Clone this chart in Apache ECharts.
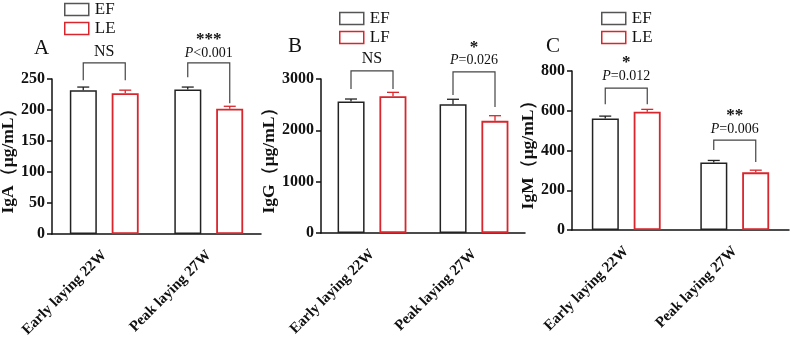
<!DOCTYPE html>
<html>
<head>
<meta charset="utf-8">
<script src="https://cdn.jsdelivr.net/npm/echarts@6/dist/echarts.min.js"></script>
<style>
  html, body { margin: 0; padding: 0; background: #fff; }
  #chart { width: 791px; height: 337px; }
</style>
</head>
<body>
<div id="chart"></div>
<script>
// categories and values
const categories = ['Early laying 22W', 'Peak laying 27W']

const igaEF = [232, 233]
const igaEFErr = [5, 4]
const igaLE = [227, 202]
const igaLEErr = [5, 4]

const iggEF = [2560, 2510]
const iggEFErr = [50, 95]
const iggLF = [2665, 2185]
const iggLFErr = [75, 100]

const igmEF = [561, 340]
const igmEFErr = [12, 10]
const igmLE = [595, 290]
const igmLEErr = [12, 11]

const yMax = [250, 3000, 800]
const yStep = [50, 1000, 200]

// significance brackets: [category, bracket level, left leg end, right leg end]
const bracketA = [[0, 276, 248, 248], [1, 276, 253, 211]]
const bracketB = [[0, 3158, 2807, 2807], [1, 3138, 2690, 2456]]
const bracketC = [[0, 714, 633, 633], [1, 452, 402, 342]]
// annotation anchors [category, level] and their texts
const annoA = [[0, 294], [1, 314], [1, 292]]
const annoTextA = ['NS', '***', '{i|P}<0.001']
const annoB = [[0, 3392], [1, 3610], [1, 3372]]
const annoTextB = ['NS', '*', '{i|P}=0.026']
const annoC = [[0, 842], [1, 575], [0, 774], [1, 508]]
const annoTextC = ['*', '**', '{i|P}=0.012', '{i|P}=0.006']

const SERIF = "'Times New Roman', 'Liberation Serif', serif"
const BLACK = '#222'
const RED = '#d8262c'
const OFF = 21

const chart = echarts.init(document.getElementById('chart'))

function errRender(offset, color) {
  return function(params, api) {
    const c = api.coord([api.value(0), api.value(1)])
    const t = api.coord([api.value(0), api.value(1) + api.value(2)])
    const x = c[0] + offset
    return {
      type: 'group',
      children: [
        { type: 'line', shape: { x1: x, y1: c[1], x2: x, y2: t[1] }, style: { stroke: color, lineWidth: 1.3 } },
        { type: 'line', shape: { x1: x - 6, y1: t[1], x2: x + 6, y2: t[1] }, style: { stroke: color, lineWidth: 1.3 } }
      ]
    }
  }
}

function bracketRender(params, api) {
  const top = api.coord([api.value(0), api.value(1)])
  const l = api.coord([api.value(0), api.value(2)])
  const r = api.coord([api.value(0), api.value(3)])
  return {
    type: 'polyline',
    shape: { points: [[top[0] - OFF, l[1]], [top[0] - OFF, top[1]], [top[0] + OFF, top[1]], [top[0] + OFF, r[1]]] },
    style: { stroke: '#444', lineWidth: 1.2, fill: null }
  }
}

function textRender(texts) {
  return function(params, api) {
    const p = api.coord([api.value(0), api.value(1)])
    const txt = texts[params.dataIndex]
    const isStar = txt.indexOf('*') >= 0
    return {
      type: 'text',
      x: p[0], y: p[1],
      style: {
        text: txt,
        align: 'center',
        verticalAlign: 'middle',
        fill: '#111',
        fontFamily: SERIF,
        fontSize: isStar ? 17 : (txt === 'NS' ? 16 : 14),
        fontWeight: isStar ? 'bold' : 'normal',
        rich: { i: { fontStyle: 'italic', fontFamily: SERIF, fontSize: 14, fill: '#111' } }
      }
    }
  }
}

function toErr(vals, errs) {
  return vals.map((v, i) => [i, v, errs[i]])
}

const grids = [
  { left: 52, top: 79, width: 209, height: 155, outerBoundsMode: 'none', containLabel: false },
  { left: 321, top: 79, width: 204, height: 154, outerBoundsMode: 'none', containLabel: false },
  { left: 572, top: 71, width: 217, height: 159, outerBoundsMode: 'none', containLabel: false }
]
const yNames = ['IgA（μg/mL）', 'IgG（μg/mL）', 'IgM（μg/mL）']
const nameGaps = [33, 42, 24]

const panels = [
  { ef: igaEF, efErr: igaEFErr, le: igaLE, leErr: igaLEErr, leName: 'LE', br: bracketA, an: annoA, at: annoTextA },
  { ef: iggEF, efErr: iggEFErr, le: iggLF, leErr: iggLFErr, leName: 'LF', br: bracketB, an: annoB, at: annoTextB },
  { ef: igmEF, efErr: igmEFErr, le: igmLE, leErr: igmLEErr, leName: 'LE', br: bracketC, an: annoC, at: annoTextC }
]

const series = []
panels.forEach((p, k) => {
  series.push({
    name: 'EF', type: 'bar', xAxisIndex: k, yAxisIndex: k,
    data: p.ef, barWidth: 27, barGap: '55%',
    itemStyle: { color: '#fff', borderColor: BLACK, borderWidth: 1.5 },
    emphasis: { disabled: true }
  })
  series.push({
    name: p.leName, type: 'bar', xAxisIndex: k, yAxisIndex: k,
    data: p.le, barWidth: 27, barGap: '55%',
    itemStyle: { color: '#fff', borderColor: RED, borderWidth: 1.8 },
    emphasis: { disabled: true }
  })
  series.push({
    type: 'custom', xAxisIndex: k, yAxisIndex: k, z: 5,
    data: toErr(p.ef, p.efErr), encode: { x: 0, y: 1 },
    renderItem: errRender(-OFF, BLACK)
  })
  series.push({
    type: 'custom', xAxisIndex: k, yAxisIndex: k, z: 5,
    data: toErr(p.le, p.leErr), encode: { x: 0, y: 1 },
    renderItem: errRender(OFF, RED)
  })
  series.push({
    type: 'custom', xAxisIndex: k, yAxisIndex: k, clip: false,
    data: p.br, encode: { x: 0, y: 1 },
    renderItem: bracketRender
  })
  series.push({
    type: 'custom', xAxisIndex: k, yAxisIndex: k, clip: false,
    data: p.an, encode: { x: 0, y: 1 },
    renderItem: textRender(p.at)
  })
})

const legendPos = [{ left: 64, top: 1 }, { left: 339, top: 10 }, { left: 601, top: 10 }]

chart.setOption({
  animation: false,
  title: ['A', 'B', 'C'].map((t, i) => ({
    text: t,
    left: [34, 288, 546][i],
    top: [38, 36, 36][i],
    padding: 0,
    textStyle: { fontFamily: SERIF, fontSize: 21, fontWeight: 'normal', color: '#111' }
  })),
  legend: panels.map((p, i) => ({
    orient: 'vertical',
    left: legendPos[i].left,
    top: legendPos[i].top,
    padding: 0,
    itemWidth: 24,
    itemHeight: 12,
    itemGap: 2,
    selectedMode: false,
    textStyle: { fontFamily: SERIF, fontSize: 17, color: '#111', padding: [0, 0, 0, 1] },
    data: [
      { name: 'EF', icon: 'rect', itemStyle: { color: '#fff', borderColor: '#555', borderWidth: 1.5 } },
      { name: p.leName, icon: 'rect', itemStyle: { color: '#fff', borderColor: RED, borderWidth: 1.5 } }
    ]
  })),
  grid: grids,
  xAxis: grids.map((g, i) => ({
    type: 'category',
    gridIndex: i,
    data: categories,
    axisLine: { lineStyle: { color: '#111', width: 1.5 } },
    axisTick: { alignWithLabel: true, length: 5, lineStyle: { color: '#111', width: 1.5 } },
    axisLabel: {
      rotate: 45, margin: 19, color: '#111',
      fontFamily: SERIF, fontSize: 15, fontWeight: 'bold'
    }
  })),
  yAxis: grids.map((g, i) => ({
    type: 'value',
    gridIndex: i,
    min: 0,
    max: yMax[i],
    interval: yStep[i],
    name: yNames[i],
    nameLocation: 'middle',
    nameGap: nameGaps[i],
    nameTextStyle: { fontFamily: SERIF, fontSize: 17.5, fontWeight: 'bold', color: '#111' },
    splitLine: { show: false },
    axisLine: { show: true, lineStyle: { color: '#111', width: 1.5 } },
    axisTick: { show: true, length: 5, lineStyle: { color: '#111', width: 1.5 } },
    axisLabel: {
      color: '#111', fontFamily: SERIF, fontSize: 16, fontWeight: 'bold', margin: 7,
      formatter: v => String(v)
    }
  })),
  series: series
})
</script>
</body>
</html>
